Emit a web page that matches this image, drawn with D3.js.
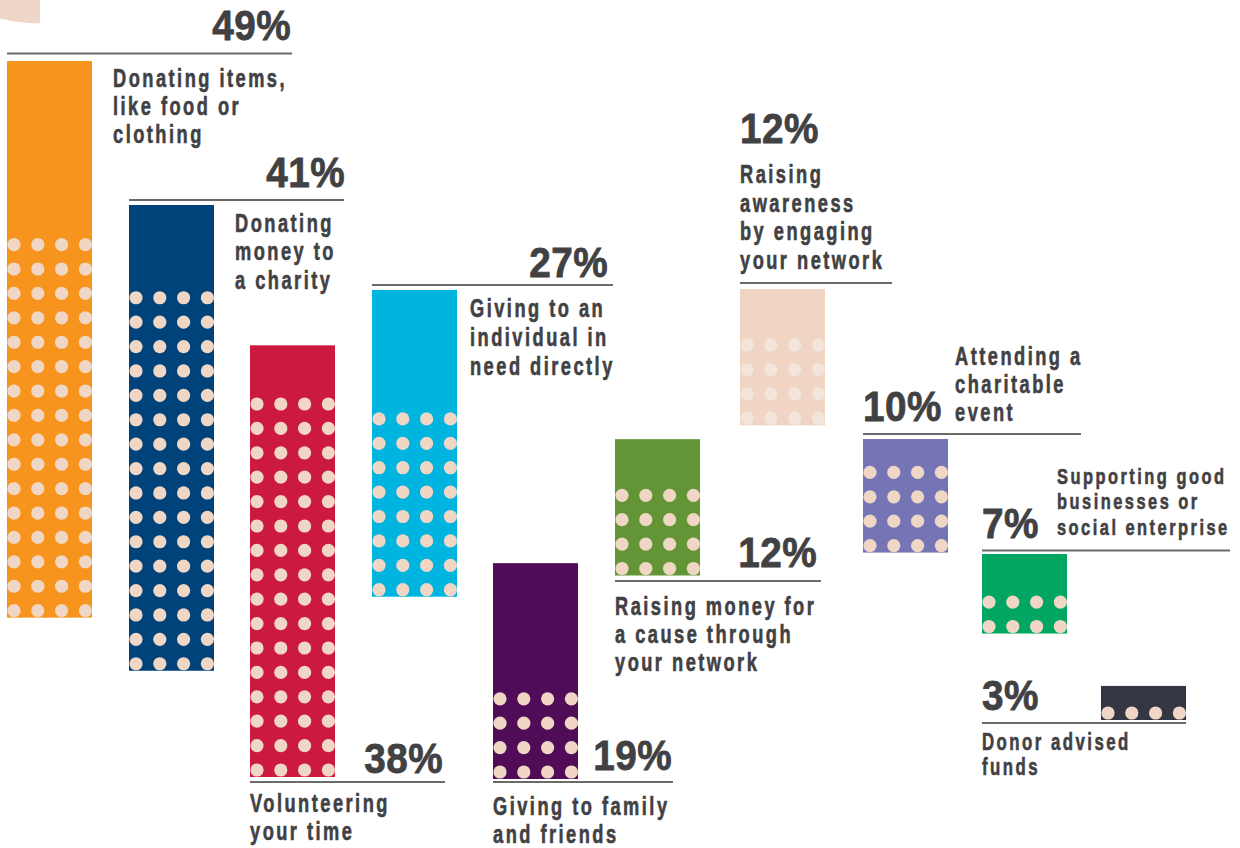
<!DOCTYPE html>
<html>
<head>
<meta charset="utf-8">
<script src="https://cdn.jsdelivr.net/npm/d3@7/dist/d3.min.js"></script>
<style>
  html, body { margin: 0; padding: 0; background: #ffffff; }
  svg { display: block; }
  text { font-family: "Liberation Sans", Arial, sans-serif; font-weight: bold; fill: #414143; stroke: #414143; }
</style>
</head>
<body>
<svg id="chart" width="1240" height="848"></svg>
<script>
// ---------- data ----------
const categories = [
  ["Donating items,", "like food or", "clothing"],
  ["Donating", "money to", "a charity"],
  ["Volunteering", "your time"],
  ["Giving to an", "individual in", "need directly"],
  ["Giving to family", "and friends"],
  ["Raising money for", "a cause through", "your network"],
  ["Raising", "awareness", "by engaging", "your network"],
  ["Attending a", "charitable", "event"],
  ["Supporting good", "businesses or", "social enterprise"],
  ["Donor advised", "funds"]
];
const values = [49, 41, 38, 27, 19, 12, 12, 10, 7, 3];
const valueLabels = ["49%", "41%", "38%", "27%", "19%", "12%", "12%", "10%", "7%", "3%"];
const dotRows = [16, 16, 16, 8, 4, 4, 4, 4, 2, 1];
const colors = ["#f7941d", "#00427a", "#cc1940", "#00b4e0", "#500c56", "#639536", "#f0d5c4", "#7575b6", "#00a661", "#343643"];
const dotColors = ["#f0d6c4", "#f0d6c4", "#f0d6c4", "#f0d6c4", "#f0d6c4", "#f0d6c4", "#f4e5db", "#f0d6c4", "#f0d6c4", "#f0d6c4"];

// ---------- layout (positions only) ----------
// dir: +1 bar hangs below base, -1 bar rises above base
const layout = [
  { barX: 7,    base: 61,    dir: 1,  lineY: 53.5, lx1: 7,   lx2: 292,  px: 291, py: 40,  pa: "end",   tx: 113,  ty: 87,  tl: 28,  fs: 25 },
  { barX: 129,  base: 205,   dir: 1,  lineY: 200,  lx1: 129, lx2: 344,  px: 345, py: 187, pa: "end",   tx: 235,  ty: 232, tl: 28.5, fs: 25 },
  { barX: 250,  base: 777,   dir: -1, lineY: 782,  lx1: 250, lx2: 445,  px: 443, py: 773, pa: "end",   tx: 250,  ty: 812, tl: 28,  fs: 25 },
  { barX: 372,  base: 290,   dir: 1,  lineY: 285,  lx1: 372, lx2: 613,  px: 608, py: 277, pa: "end",   tx: 470,  ty: 317, tl: 29,  fs: 25 },
  { barX: 493,  base: 779,   dir: -1, lineY: 782,  lx1: 493, lx2: 673,  px: 672, py: 770, pa: "end",   tx: 493,  ty: 815, tl: 28,  fs: 25 },
  { barX: 615,  base: 575.5, dir: -1, lineY: 581,  lx1: 615, lx2: 821,  px: 817, py: 567, pa: "end",   tx: 615,  ty: 615, tl: 28,  fs: 25 },
  { barX: 740,  base: 289,   dir: 1,  lineY: 283,  lx1: 740, lx2: 892,  px: 740, py: 143, pa: "start", tx: 740,  ty: 183, tl: 28.6, fs: 25 },
  { barX: 863,  base: 439,   dir: 1,  lineY: 434,  lx1: 863, lx2: 1081, px: 863, py: 421, pa: "start", tx: 955,  ty: 365, tl: 28,  fs: 25 },
  { barX: 982,  base: 554,   dir: 1,  lineY: 550.5,lx1: 982, lx2: 1230, px: 982, py: 538, pa: "start", tx: 1057, ty: 484, tl: 25.5, fs: 22.5 },
  { barX: 1101, base: 720,   dir: -1, lineY: 723,  lx1: 982, lx2: 1186, px: 982, py: 710, pa: "start", tx: 982,  ty: 750, tl: 25,  fs: 23 }
];

const barWidth = 85;
const dotR = 6.6;
const dotColStep = 23.8;
const dotRowStep = 24.4;
const dotInset = 7;
const labelScaleX = 0.73;   // condense glyphs horizontally
const labelSpacing = 3.4;
const pctScaleX = 0.9;
const pctSpacing = 0.5;
const pctSize = 43;

const svg = d3.select("#chart");

// decorative corner shape
svg.append("path")
  .attr("d", "M0,0 H40 V23.5 Q18,23 0,18.5 Z")
  .attr("fill", "#f0d6c6");

const h = d3.scaleLinear().domain([0, 50]).range([0, 568]);

const items = values.map((v, i) => ({
  v, i, label: valueLabels[i], lines: categories[i], rows: dotRows[i],
  color: colors[i], dot: dotColors[i], L: layout[i]
}));

const g = svg.selectAll("g.item").data(items).enter().append("g").attr("class", "item");

// bars
g.append("rect")
  .attr("x", d => d.L.barX)
  .attr("y", d => d.L.dir > 0 ? d.L.base : d.L.base - h(d.v))
  .attr("width", barWidth)
  .attr("height", d => h(d.v))
  .attr("fill", d => d.color);

// dots (filled from the bottom of each bar)
g.each(function(d) {
  const bottom = d.L.dir > 0 ? d.L.base + h(d.v) : d.L.base;
  const pts = [];
  for (let r = 0; r < d.rows; r++) {
    for (let c = 0; c < 4; c++) {
      pts.push({ x: d.L.barX + dotInset + c * dotColStep, y: bottom - dotInset - r * dotRowStep });
    }
  }
  d3.select(this).selectAll("circle").data(pts).enter().append("circle")
    .attr("cx", p => p.x).attr("cy", p => p.y).attr("r", dotR)
    .attr("fill", d.dot);
});

// rule lines
g.append("line")
  .attr("x1", d => d.L.lx1).attr("x2", d => d.L.lx2)
  .attr("y1", d => d.L.lineY).attr("y2", d => d.L.lineY)
  .attr("stroke", "#6a6a6a").attr("stroke-width", 2);

// percentage labels
g.append("text")
  .attr("transform", d => `translate(${d.L.px},${d.L.py}) scale(${pctScaleX},1)`)
  .attr("text-anchor", d => d.L.pa)
  .attr("font-size", pctSize)
  .attr("letter-spacing", pctSpacing)
  .attr("stroke-width", 0.8)
  .text(d => d.label);

// category labels
g.each(function(d) {
  const t = d3.select(this).append("text")
    .attr("transform", `translate(${d.L.tx},${d.L.ty}) scale(${labelScaleX},1)`)
    .attr("font-size", d.L.fs)
    .attr("letter-spacing", labelSpacing)
    .attr("stroke-width", 0.6);
  d.lines.forEach((ln, k) => {
    t.append("tspan").attr("x", 0).attr("y", k * d.L.tl).text(ln);
  });
});
</script>
</body>
</html>
